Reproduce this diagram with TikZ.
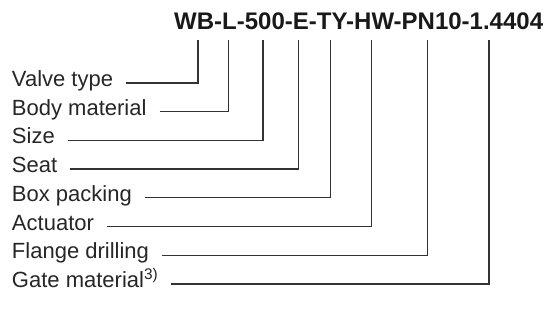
\documentclass[tikz,border=0pt]{standalone}
\usepackage{fontspec}
\setmainfont{Liberation Sans}
\begin{document}
\begin{tikzpicture}[x=1pt,y=-1pt,
  lbl/.style={anchor=west,inner sep=0pt,outer sep=0pt,text height=0.716em,text depth=0pt,
    font=\fontsize{22}{26}\selectfont,text=black!85},
  ttl/.style={anchor=base west,inner sep=0pt,font=\fontsize{24}{28}\selectfont\bfseries,text=black!90},
  lead/.style={draw=black!80,line width=1.3pt,line join=miter}]
\useasboundingbox (0,0) rectangle (547,325);
\node[ttl] (title) at (174,29) {WB-L-500-E-TY-HW-PN10-1.4404};
% labels
\node[lbl] (l1) at (12,83.0) {Valve type};
\node[lbl] (l2) at (12,111.7) {Body material};
\node[lbl] (l3) at (12,140.4) {Size};
\node[lbl] (l4) at (12,169.1) {Seat};
\node[lbl] (l5) at (12,197.8) {Box packing};
\node[lbl] (l6) at (12,226.5) {Actuator};
\node[lbl] (l7) at (12,255.2) {Flange drilling};
\node[lbl] (l8) at (12,283.9) {Gate material\textsuperscript{3)}};
% top ends
\coordinate (t1) at (198,40);
\coordinate (t2) at (228.5,40);
\coordinate (t3) at (263,40);
\coordinate (t4) at (298.5,40);
\coordinate (t5) at (330.5,40);
\coordinate (t6) at (371.5,40);
\coordinate (t7) at (427.5,40);
\coordinate (t8) at (489,40);
\foreach \i in {1,...,8}{
  \draw[lead] ([xshift=13pt]l\i.east) -- (t\i |- l\i.east) -- (t\i);
}
\end{tikzpicture}
\end{document}
